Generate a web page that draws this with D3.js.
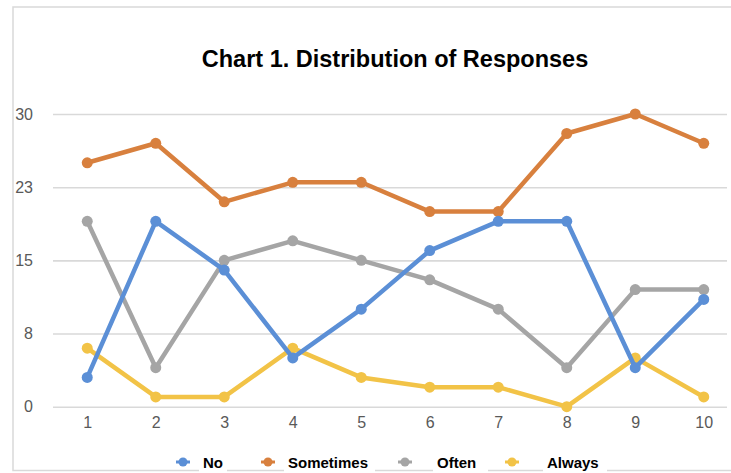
<!DOCTYPE html>
<html>
<head>
<meta charset="utf-8">
<script src="https://cdn.jsdelivr.net/npm/d3@7"></script>
<style>
  html, body { margin: 0; padding: 0; background: #ffffff; }
  svg { display: block; }
</style>
</head>
<body>
<svg id="chart" width="731" height="473"></svg>
<script>
const categories = ["1", "2", "3", "4", "5", "6", "7", "8", "9", "10"];
const seriesNames = ["No", "Sometimes", "Often", "Always"];
const noValues        = [3, 19, 14, 5, 10, 16, 19, 19, 4, 11];
const sometimesValues = [25, 27, 21, 23, 23, 20, 20, 28, 30, 27];
const oftenValues     = [19, 4, 15, 17, 15, 13, 10, 4, 12, 12];
const alwaysValues    = [6, 1, 1, 6, 3, 2, 2, 0, 5, 1];
const yTickValues = [0, 7.5, 15, 22.5, 30];
const yTickLabels = ["0", "8", "15", "23", "30"];
const seriesColors = ["#5b8fd6", "#d8803e", "#a5a5a5", "#f2c347"];
const titleText = "Chart 1. Distribution of Responses";

const series = [
  { name: seriesNames[0], values: noValues, color: seriesColors[0] },
  { name: seriesNames[1], values: sometimesValues, color: seriesColors[1] },
  { name: seriesNames[2], values: oftenValues, color: seriesColors[2] },
  { name: seriesNames[3], values: alwaysValues, color: seriesColors[3] }
];

const svg = d3.select("#chart");

// outer border
svg.append("rect")
  .attr("x", 13).attr("y", 7)
  .attr("width", 740).attr("height", 463.5)
  .attr("fill", "#ffffff")
  .attr("stroke", "#d9d9d9").attr("stroke-width", 1.5);

const x = d3.scalePoint().domain(categories).range([53, 738]).padding(0.5);
const y = d3.scaleLinear().domain([0, 30]).range([406.7, 114]);

// title
svg.append("text")
  .attr("x", 395).attr("y", 67)
  .attr("text-anchor", "middle")
  .attr("font-family", "Liberation Sans, Arial, sans-serif")
  .attr("font-weight", "bold")
  .attr("font-size", 23.5)
  .attr("fill", "#000000")
  .text(titleText);

// y axis with gridlines
const yAxis = d3.axisLeft(y)
  .tickValues(yTickValues)
  .tickFormat((d, i) => yTickLabels[i])
  .tickSize(-(727 - 53))
  .tickPadding(20);

const gy = svg.append("g")
  .attr("transform", "translate(53,0)")
  .call(yAxis);
gy.select(".domain").remove();
gy.selectAll(".tick line").attr("stroke", "#d9d9d9").attr("stroke-width", 1.6);
gy.selectAll(".tick text")
  .attr("font-family", "Liberation Sans, Arial, sans-serif")
  .attr("font-size", 16)
  .attr("fill", "#595959");

// x axis labels
const xAxis = d3.axisBottom(x).tickSize(0).tickPadding(10);
const gx = svg.append("g")
  .attr("transform", "translate(0,406.7)")
  .call(xAxis);
gx.select(".domain").remove();
gx.selectAll(".tick text")
  .attr("font-family", "Liberation Sans, Arial, sans-serif")
  .attr("font-size", 16)
  .attr("fill", "#595959");

// lines (draw last series first so "No" ends on top)
const line = d3.line()
  .x((d, i) => x(categories[i]))
  .y(d => y(d));

const drawOrder = series.slice().reverse();
drawOrder.forEach(s => {
  const g = svg.append("g");
  g.append("path")
    .datum(s.values)
    .attr("d", line)
    .attr("fill", "none")
    .attr("stroke", s.color)
    .attr("stroke-width", 4.5)
    .attr("stroke-linejoin", "round");
  g.selectAll("circle")
    .data(s.values)
    .enter().append("circle")
    .attr("cx", (d, i) => x(categories[i]))
    .attr("cy", d => y(d))
    .attr("r", 5.5)
    .attr("fill", s.color);
});

// legend
const legendMarkerX = [183, 268, 405, 512];
const legendTextX = [203, 288, 437, 547];
const legendY = 462;
series.forEach((s, i) => {
  const g = svg.append("g");
  g.append("rect")
    .attr("x", legendTextX[i] - 4).attr("y", 450)
    .attr("width", s.name.length * 9 + 10).attr("height", 23)
    .attr("fill", "#ffffff");
  g.append("line")
    .attr("x1", legendMarkerX[i] - 7).attr("x2", legendMarkerX[i] + 7)
    .attr("y1", legendY).attr("y2", legendY)
    .attr("stroke", s.color).attr("stroke-width", 3);
  g.append("circle")
    .attr("cx", legendMarkerX[i]).attr("cy", legendY)
    .attr("r", 4.5).attr("fill", s.color);
  g.append("text")
    .attr("x", legendTextX[i]).attr("y", 468)
    .attr("font-family", "Liberation Sans, Arial, sans-serif")
    .attr("font-weight", "bold")
    .attr("font-size", 15)
    .attr("fill", "#000000")
    .text(s.name);
});
</script>
</body>
</html>
